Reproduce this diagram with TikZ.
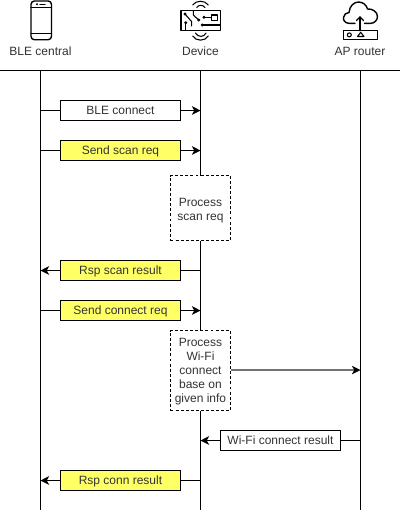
\documentclass[tikz,border=0pt]{standalone}
\usepackage{fontspec}
\setmainfont{Liberation Sans}
\usetikzlibrary{arrows.meta}
\definecolor{txt}{HTML}{333333}
\definecolor{noteyellow}{HTML}{FFFF66}
\tikzset{x=0.75pt,y=-0.75pt,
  every node/.style={font=\fontsize{9pt}{10.5pt}\selectfont,text=txt},
  lifeline/.style={line width=0.8pt},
  msg/.style={draw=black,line width=0.8pt,minimum width=90pt,minimum height=15pt,inner sep=0pt,anchor=center,text height=8pt,text depth=1.4pt},
  note/.style={msg,fill=noteyellow},
  plain/.style={msg,fill=white},
  proc/.style={draw=black,fill=white,line width=0.8pt,dashed,dash pattern=on 2.2pt off 1.6pt,minimum width=45pt,inner sep=0pt,align=center},
  flow/.style={line width=0.8pt,-{Stealth[length=6.5pt,width=6.5pt,inset=1.8pt]}},
  softflow/.style={draw=black!55,line width=1.4pt,-{Stealth[length=6.5pt,width=6.5pt,inset=1.8pt,color=black,fill=black,line width=0pt]}},
  icon/.style={line width=0.8pt,line join=round,line cap=round},
  iconb/.style={line width=1.05pt,line join=round,line cap=round}}
\begin{document}
\begin{tikzpicture}
\useasboundingbox (0,0) rectangle (402,512);
\fill[white] (0,0) rectangle (402,512);
% labels
\node (lc) at (40.5,51) {BLE central};
\node (ld) at (200.5,51) {Device};
\node (la) at (360,51) {AP router};
% header
\coordinate (hl) at (0,70.5); \coordinate (hr) at (400,70.5);
\draw[lifeline] (hl) -- (hr);
% lifelines
\coordinate (c0) at (40.5,70.5); \coordinate (c1) at (40.5,510);
\coordinate (d0) at (200.5,70.5); \coordinate (d1) at (200.5,510);
\coordinate (r0) at (360.5,70.5); \coordinate (r1) at (360.5,510);
\draw[lifeline] (c0) -- (c1) (d0) -- (d1) (r0) -- (r1);
% anchors
\coordinate (a1) at (40.5,110.5); \coordinate (a2) at (40.5,150.5);
\coordinate (a3) at (40.5,270.5); \coordinate (a4) at (40.5,310.5); \coordinate (a5) at (40.5,480.5);
\coordinate (b1) at (200.5,110.5); \coordinate (b2) at (200.5,150.5);
\coordinate (b3) at (200.5,270.5); \coordinate (b4) at (200.5,310.5); \coordinate (b5) at (200.5,480.5);
\coordinate (b6) at (200.5,440.5); \coordinate (e6) at (360.5,440.5); \coordinate (e7) at (360.5,370);
% connectors
\draw[flow] (a1) -- (b1);
\draw[flow] (a2) -- (b2);
\draw[flow] (b3) -- (a3);
\draw[flow] (a4) -- (b4);
\draw[flow] (b5) -- (a5);
\draw[flow] (e6) -- (b6);
% boxes
\node[plain] (m1) at (120.5,110.5) {BLE connect};
\node[note] (m2) at (120.5,150.5) {Send scan req};
\node[proc,minimum height=48.75pt] (p1) at (200.5,208) {\rule{0pt}{10.3pt}Process\\scan req};
\node[note] (m3) at (120.5,270.5) {Rsp scan result};
\node[note] (m4) at (120.5,310.5) {Send connect req};
\node[proc,minimum height=60pt] (p2) at (200.5,370.5) {\rule{0pt}{7.5pt}Process\\Wi-Fi\\connect\\base on\\given info};
\node[plain] (m6) at (280.5,440.5) {Wi-Fi connect result};
\node[note] (m5) at (120.5,480.5) {Rsp conn result};
\draw[softflow] (p2.east |- e7) -- (e7);
% phone
\draw[iconb,rounded corners=2.5pt] (31,1) rectangle (51.5,39.7);
\draw[icon] (31,7.3) -- (51.5,7.3);
\draw[icon,line width=1.1pt] (31,33.7) -- (51.5,33.7);
\fill (37,4.2) circle (1.1);
\draw[icon] (40,4.2) -- (45,4.2);
% device
\draw[iconb] (181,10.3) rectangle (220.5,30.5);
\draw[icon] (192.7,5) .. controls (196,0) and (205,0) .. (208.3,5);
\draw[icon] (196.7,7.5) .. controls (198.5,4.6) and (203,4.6) .. (205,7.5);
\draw[icon] (195.5,33) .. controls (198,37.5) and (204,37.5) .. (206,33);
\draw[icon] (192.7,36) .. controls (196,41.5) and (205,41.5) .. (208.3,36);
\draw[icon] (193.3,10.7) -- (193.3,15) -- (198.7,20);
\draw[icon] (185,14) -- (191.7,21.7) -- (191.7,26);
\draw[icon] (185.7,30) -- (185.7,22.7);
\draw[icon] (202.3,25) -- (220,25);
\draw[icon] (204,17.3) -- (211.7,17.3);
\draw[iconb] (211.7,15) rectangle (217.3,20.7);
\fill (185,14) circle (1.6) (198.7,20) circle (1.6) (185.7,22.7) circle (1.6) (202.3,25) circle (1.6) (204,17.3) circle (1.6);
% router
\draw[iconb] (355,23.3) -- (349,23.3) .. controls (345,23.3) and (343,20) .. (343.5,17.5)
  .. controls (344,14.5) and (346,12.5) .. (349,12.5) .. controls (349.5,6) and (354,2) .. (358.5,2)
  .. controls (363,2) and (366.5,5) .. (367.5,9) .. controls (372,8.5) and (377.5,11.5) .. (377.5,16.5)
  .. controls (377.5,20.5) and (374,23.3) .. (371,23.3) -- (364.5,23.3);
\draw[iconb] (360,30.7) -- (360,17);
\draw[iconb] (356.5,20.5) -- (360,17) -- (363.5,20.5);
\draw[iconb] (343.3,30.7) rectangle (377.7,39.3);
\draw[icon] (349.3,34.9) circle (2);
\draw[icon] (357.5,36.5) -- (360.7,32.3) -- (364,36.5) -- cycle;
\end{tikzpicture}
\end{document}
